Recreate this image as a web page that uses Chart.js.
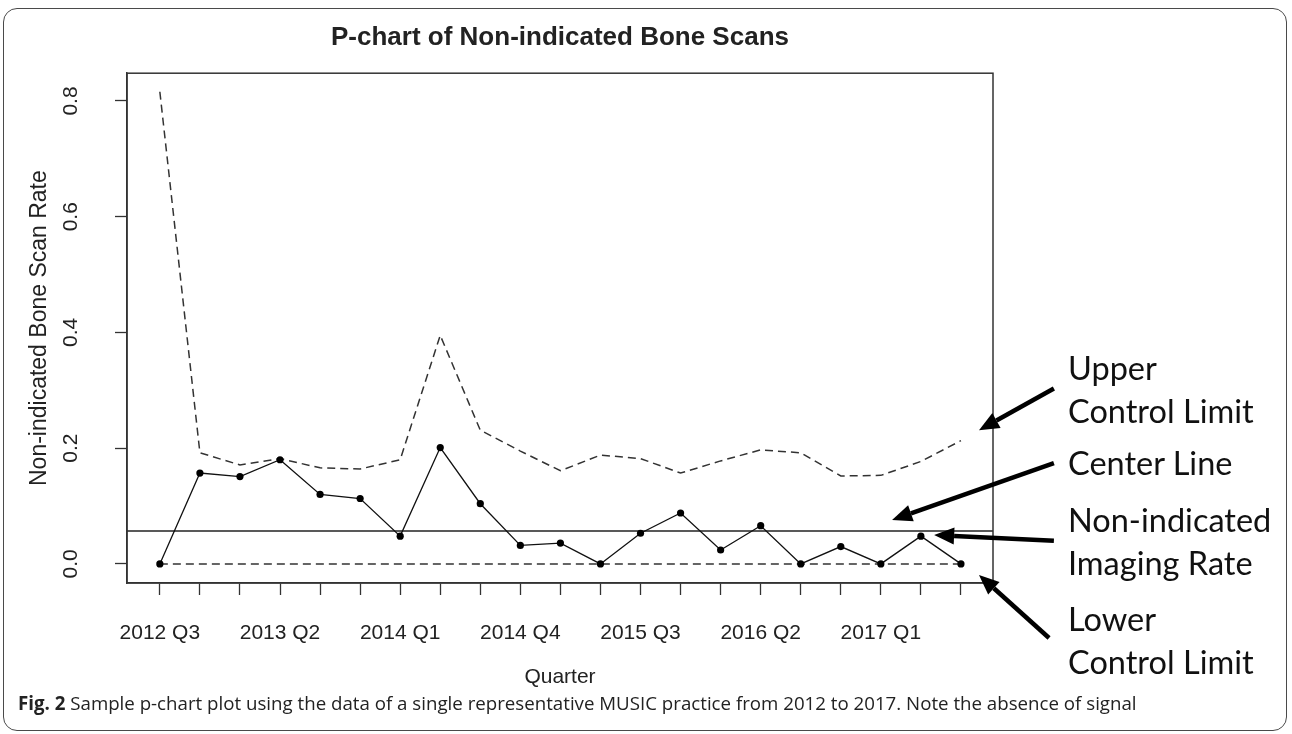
<!DOCTYPE html>
<html>
<head>
<meta charset="utf-8">
<script src="https://cdn.jsdelivr.net/npm/chart.js@4.4.1/dist/chart.umd.min.js"></script>
<style>
  html, body { margin: 0; padding: 0; background: #fff; }
  #wrap { position: relative; width: 1292px; height: 734px; overflow: hidden; }
  #frame { position: absolute; left: 3px; top: 8px; width: 1282px; height: 721px;
           border: 1.5px solid #4a4a4a; border-radius: 14px; }
  canvas { position: absolute; left: 0; top: 0; }
  .note { position: absolute; left: 1068px; font-family: Lato, sans-serif; font-size: 32.5px;
          line-height: 43px; color: #111; white-space: nowrap; }
  #caption { position: absolute; left: 18px; top: 690px; font-family: 'Open Sans', sans-serif;
             font-size: 18.7px; color: #222; white-space: nowrap; }
</style>
</head>
<body>
<div id="wrap">
  <div id="frame"></div>
  <canvas id="pchart" width="1292" height="734"></canvas>
  <div class="note" style="top:346px">Upper<br>Control Limit</div>
  <div class="note" style="top:441px">Center Line</div>
  <div class="note" style="top:498px">Non-indicated<br>Imaging Rate</div>
  <div class="note" style="top:597px">Lower<br>Control Limit</div>
  <div id="caption"><b>Fig. 2</b> Sample p-chart plot using the data of a single representative MUSIC practice from 2012 to 2017. Note the absence of signal</div>
</div>
<script>
// quarters, one per point
const quarters = ['2012 Q3', '2012 Q4', '2013 Q1', '2013 Q2', '2013 Q3', '2013 Q4', '2014 Q1',
  '2014 Q2', '2014 Q3', '2014 Q4', '2015 Q1', '2015 Q2', '2015 Q3', '2015 Q4', '2016 Q1',
  '2016 Q2', '2016 Q3', '2016 Q4', '2017 Q1', '2017 Q2', '2017 Q3'];

// non-indicated imaging rate
const rates = [0, 0.157, 0.151, 0.180, 0.120, 0.113, 0.048, 0.201, 0.104, 0.032, 0.036,
  0, 0.053, 0.088, 0.024, 0.066, 0, 0.030, 0, 0.048, 0];

// upper / lower control limits
const ucl = [0.816, 0.192, 0.171, 0.182, 0.166, 0.164, 0.180, 0.395, 0.231, 0.195, 0.161,
  0.188, 0.182, 0.157, 0.178, 0.197, 0.192, 0.152, 0.153, 0.177, 0.213];
const lcl = [0, 0, 0, 0, 0, 0, 0, 0, 0, 0, 0, 0, 0, 0, 0, 0, 0, 0, 0, 0, 0];

const centerLine = 0.057;
const yTicks = [0, 0.2, 0.4, 0.6, 0.8];

// axis range (R pads the data range by 4%)
const xMin = -0.82, xMax = 20.8;
const yMin = -0.033, yMax = 0.848;

// callout arrows, in data units: tail -> head
const arrows = [
  { from: [22.32, 0.303], to: [20.45, 0.231] },
  { from: [22.32, 0.174], to: [18.28, 0.076] },
  { from: [22.32, 0.040], to: [19.33, 0.050] },
  { from: [22.2, -0.128], to: [20.45, -0.019] }
];

const FONT = '"Liberation Sans", Arial, Helvetica, sans-serif';
const INK = '#222';

const toPoints = vals => vals.map((v, i) => ({ x: i, y: v }));

// box, rotated y labels, callout arrows
const extras = {
  id: 'extras',
  afterDraw(chart) {
    const { ctx, chartArea: a, scales: { x, y } } = chart;
    ctx.save();
    ctx.strokeStyle = '#333';
    ctx.lineWidth = 1.5;
    ctx.strokeRect(a.left, a.top, a.right - a.left, a.bottom - a.top);

    ctx.fillStyle = INK;
    ctx.font = '21px ' + FONT;
    ctx.textAlign = 'center';
    ctx.textBaseline = 'middle';
    yTicks.forEach(v => {
      ctx.save();
      ctx.translate(a.left - 56, y.getPixelForValue(v));
      ctx.rotate(-Math.PI / 2);
      ctx.fillText(v.toFixed(1), 0, 0);
      ctx.restore();
    });

    ctx.strokeStyle = '#000';
    ctx.fillStyle = '#000';
    arrows.forEach(ar => {
      const x0 = x.getPixelForValue(ar.from[0]), y0 = y.getPixelForValue(ar.from[1]);
      const x1 = x.getPixelForValue(ar.to[0]), y1 = y.getPixelForValue(ar.to[1]);
      const ang = Math.atan2(y1 - y0, x1 - x0);
      const head = 20, half = 8.5;
      const bx = x1 - head * Math.cos(ang), by = y1 - head * Math.sin(ang);
      ctx.lineWidth = 4.5;
      ctx.beginPath();
      ctx.moveTo(x0, y0);
      ctx.lineTo(bx, by);
      ctx.stroke();
      ctx.beginPath();
      ctx.moveTo(x1, y1);
      ctx.lineTo(bx + half * Math.sin(ang), by - half * Math.cos(ang));
      ctx.lineTo(bx - half * Math.sin(ang), by + half * Math.cos(ang));
      ctx.closePath();
      ctx.fill();
    });
    ctx.restore();
  }
};

new Chart(document.getElementById('pchart'), {
  type: 'line',
  data: {
    datasets: [
      {
        label: 'Rate',
        data: toPoints(rates),
        borderColor: '#111',
        borderWidth: 1.3,
        pointRadius: 3.6,
        pointBackgroundColor: '#000',
        pointBorderWidth: 0
      },
      {
        label: 'UCL',
        data: toPoints(ucl),
        borderColor: '#333',
        borderWidth: 1.5,
        borderDash: [8, 5],
        pointRadius: 0
      },
      {
        label: 'LCL',
        data: toPoints(lcl),
        borderColor: '#333',
        borderWidth: 1.5,
        borderDash: [8, 5],
        pointRadius: 0
      },
      {
        label: 'Center',
        data: [{ x: xMin, y: centerLine }, { x: xMax, y: centerLine }],
        borderColor: '#222',
        borderWidth: 1.5,
        pointRadius: 0
      }
    ]
  },
  options: {
    responsive: false,
    animation: false,
    events: [],
    layout: { padding: { left: 0, top: 0, right: 299, bottom: 0 } },
    plugins: {
      legend: { display: false },
      tooltip: { enabled: false },
      title: {
        display: true,
        fullSize: false,
        text: 'P-chart of Non-indicated Bone Scans',
        color: INK,
        font: { family: FONT, size: 26, weight: 'bold' },
        padding: { top: 22, bottom: 20 }
      }
    },
    scales: {
      x: {
        type: 'linear',
        min: xMin,
        max: xMax,
        afterFit: s => { s.height = 151; },
        border: { display: true, color: '#333', width: 1.5 },
        grid: { drawOnChartArea: false, drawTicks: true, tickLength: 12, tickColor: '#333', tickWidth: 1.3 },
        ticks: {
          stepSize: 1,
          includeBounds: false,
          autoSkip: false,
          maxRotation: 0,
          padding: 26,
          color: INK,
          font: { family: FONT, size: 21 },
          callback: v => (Number.isInteger(v) && v % 3 === 0) ? quarters[v] : ''
        },
        title: {
          display: true,
          text: 'Quarter',
          color: INK,
          font: { family: FONT, size: 21 },
          padding: { top: 0, bottom: 44 }
        }
      },
      y: {
        type: 'linear',
        min: yMin,
        max: yMax,
        afterFit: s => { s.width = 127; },
        border: { display: true, color: '#333', width: 1.5 },
        grid: { drawOnChartArea: false, drawTicks: true, tickLength: 12, tickColor: '#333', tickWidth: 1.3 },
        ticks: {
          stepSize: 0.2,
          includeBounds: false,
          display: false
        },
        title: {
          display: true,
          text: 'Non-indicated Bone Scan Rate',
          color: INK,
          font: { family: FONT, size: 23 },
          padding: { top: 26, bottom: 0 }
        }
      }
    }
  },
  plugins: [extras]
});
</script>
</body>
</html>
